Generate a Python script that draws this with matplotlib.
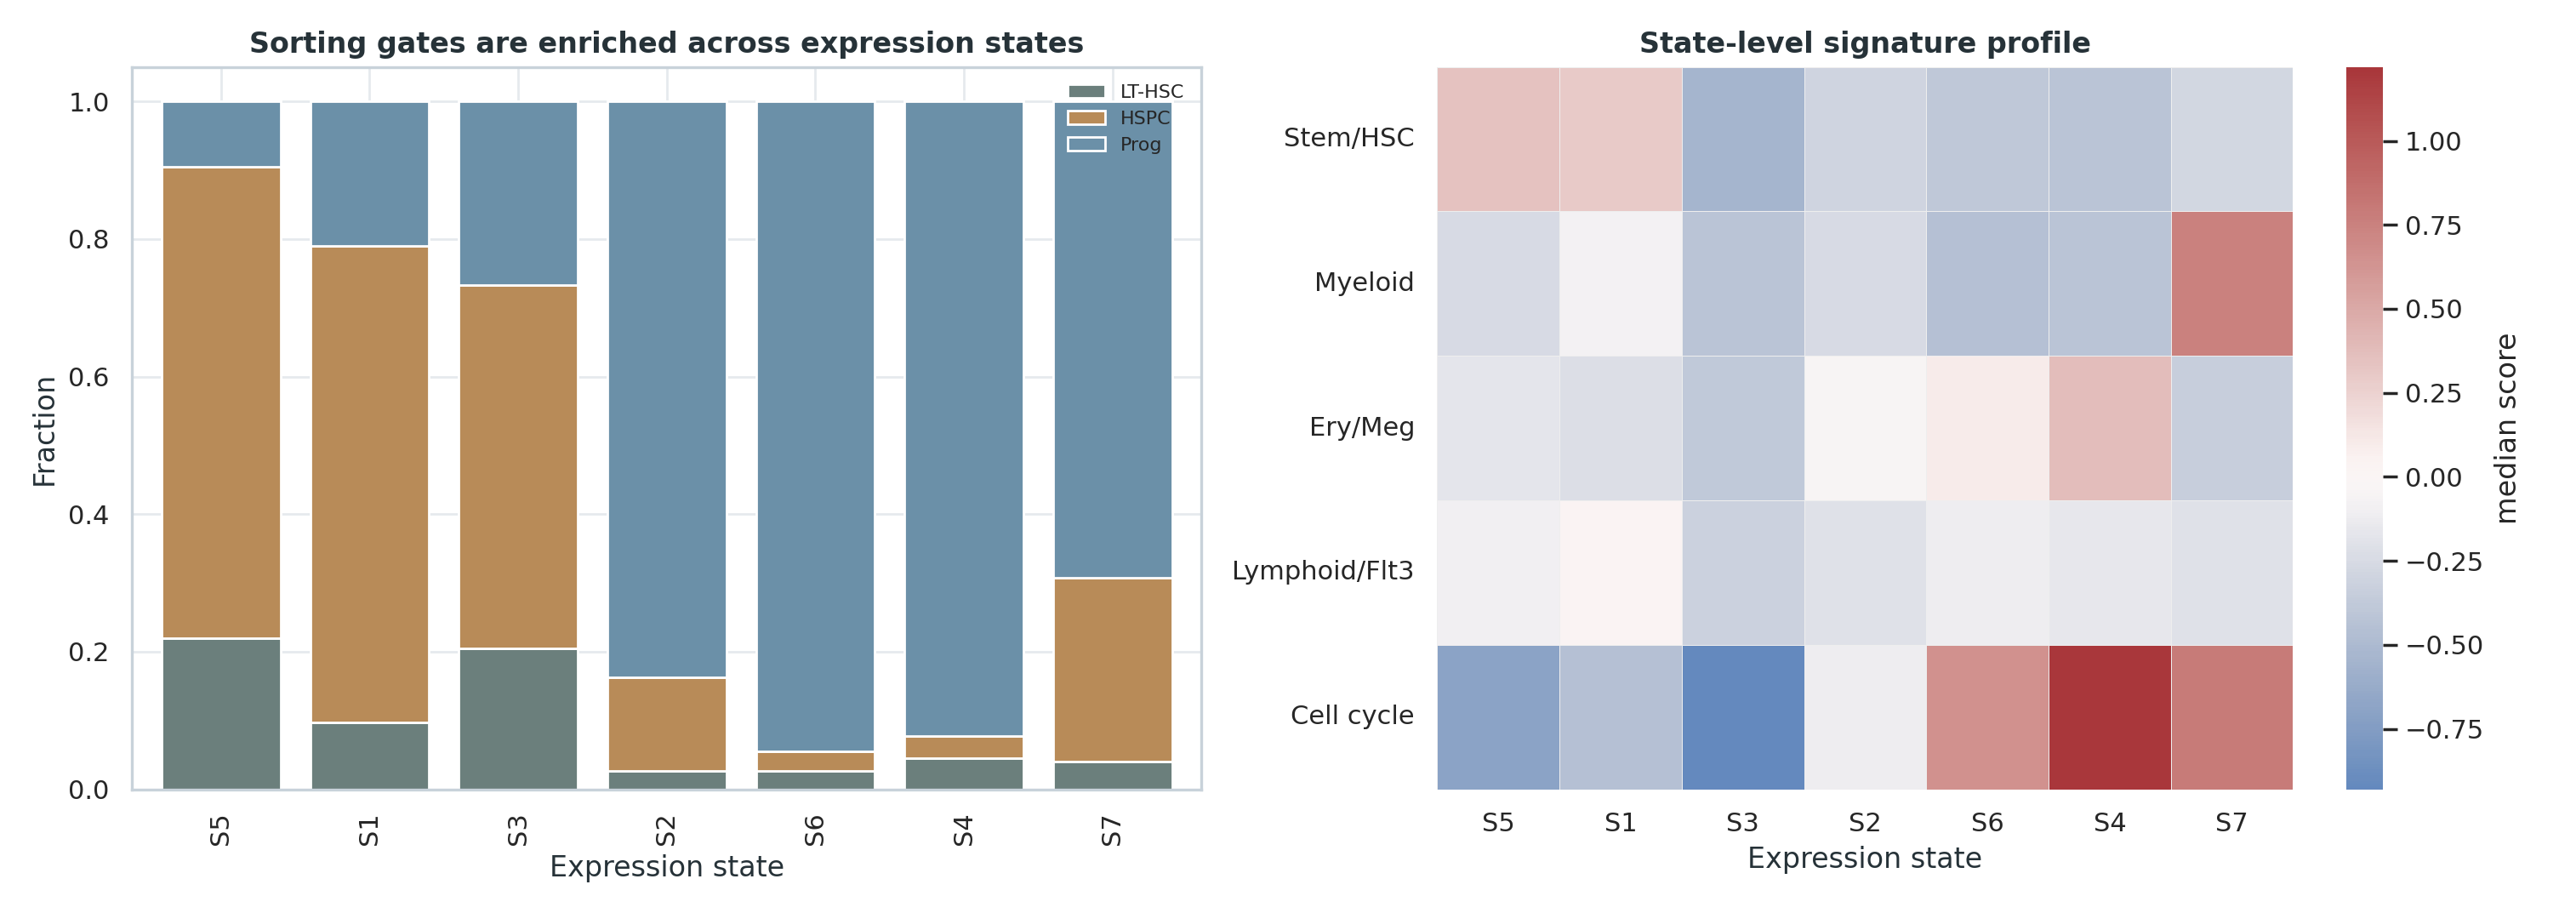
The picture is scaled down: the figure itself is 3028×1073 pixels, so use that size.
import numpy as np
import matplotlib
matplotlib.use("Agg")
import matplotlib.pyplot as plt
import seaborn as sns

states = ["S5", "S1", "S3", "S2", "S6", "S4", "S7"]
lt_hsc = [0.220, 0.097, 0.205, 0.027, 0.027, 0.045, 0.040]
hspc = [0.685, 0.693, 0.528, 0.136, 0.028, 0.033, 0.268]
prog = [0.095, 0.210, 0.267, 0.837, 0.945, 0.922, 0.692]

signatures = ["Stem/HSC", "Myeloid", "Ery/Meg", "Lymphoid/Flt3", "Cell cycle"]
heat = np.array([
    [0.35, 0.30, -0.55, -0.30, -0.40, -0.42, -0.28],
    [-0.25, -0.08, -0.42, -0.25, -0.45, -0.42, 0.75],
    [-0.18, -0.22, -0.38, -0.05, 0.10, 0.38, -0.35],
    [-0.10, 0.03, -0.32, -0.20, -0.12, -0.15, -0.20],
    [-0.70, -0.45, -0.93, -0.12, 0.65, 1.22, 0.80],
])

sns.set_theme(style="whitegrid")
dark = "#263238"
fig, (ax1, ax2) = plt.subplots(1, 2, figsize=(15.14, 5.365), dpi=200,
                               gridspec_kw={"width_ratios": [1, 1.0]})

x = np.arange(len(states))
c1, c2, c3 = "#6b7f7c", "#b88b58", "#6b90a8"
lt = np.array(lt_hsc); hs = np.array(hspc); pr = np.array(prog)
ax1.bar(x, lt, color=c1, edgecolor="white", width=0.8, label="LT-HSC")
ax1.bar(x, hs, bottom=lt, color=c2, edgecolor="white", width=0.8, label="HSPC")
ax1.bar(x, pr, bottom=lt + hs, color=c3, edgecolor="white", width=0.8, label="Prog")
ax1.set_xticks(x)
ax1.set_xticklabels(states, rotation=90)
ax1.set_xlim(-0.6, 6.6)
ax1.set_ylim(0, 1.05)
ax1.set_xlabel("Expression state", color=dark)
ax1.set_ylabel("Fraction", color=dark)
ax1.set_title("Sorting gates are enriched across expression states", fontweight="bold", color=dark)
ax1.grid(color="#e6eaee")
for s in ax1.spines.values():
    s.set_color("#c8d2da")
    s.set_linewidth(1.2)
ax1.legend(loc="upper right", fontsize=8, frameon=False)

sns.heatmap(heat, ax=ax2, cmap="vlag", center=0, linewidths=0.3, linecolor="#eeeeee",
            xticklabels=states, yticklabels=signatures,
            cbar_kws={"label": "median score"})
ax2.set_xlabel("Expression state", color=dark)
ax2.set_title("State-level signature profile", fontweight="bold", color=dark)
ax2.tick_params(axis="y", rotation=0)
ax2.tick_params(axis="x", rotation=0)

plt.tight_layout()
fig.savefig("out.png", dpi=200)
